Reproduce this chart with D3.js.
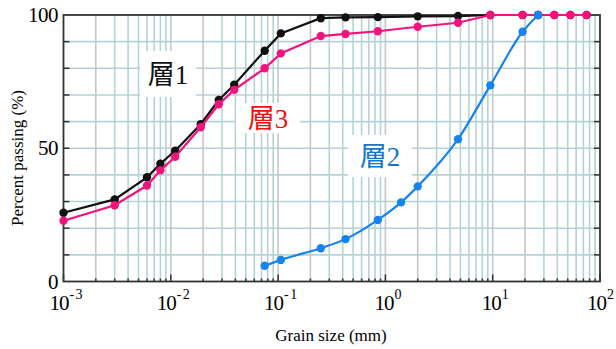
<!DOCTYPE html>
<html>
<head>
<meta charset="utf-8">
<script src="https://cdn.jsdelivr.net/npm/d3@7"></script>
<style>
  body { margin: 0; background: #fff; }
</style>
</head>
<body>
<script>
// grain sizes (mm) and percent passing for each layer
var size1 = [0.001, 0.003, 0.006, 0.008, 0.011, 0.019, 0.028, 0.039, 0.075, 0.106, 0.25, 0.425, 0.85, 2, 4.75, 9.5, 19, 26.5, 37.5, 53, 75];
var pass1 = [25.8, 30.8, 39.1, 44.2, 49.1, 59.0, 68.1, 73.8, 86.6, 93.1, 98.8, 99.1, 99.2, 99.5, 99.6, 100, 100, 100, 100, 100, 100];

var size3 = [0.001, 0.003, 0.006, 0.008, 0.011, 0.019, 0.028, 0.039, 0.075, 0.106, 0.25, 0.425, 0.85, 2, 4.75, 9.5, 19, 26.5, 37.5, 53, 75];
var pass3 = [22.8, 28.6, 36.0, 41.7, 46.8, 57.9, 66.5, 71.9, 80.0, 85.6, 92.1, 92.9, 93.9, 95.6, 97.1, 100, 100, 100, 100, 100, 100];

var size2 = [0.075, 0.106, 0.25, 0.425, 0.85, 1.4, 2, 4.75, 9.5, 19, 26.5];
var pass2 = [5.9, 8.1, 12.5, 15.9, 23.1, 29.7, 35.7, 53.4, 73.6, 93.7, 100];

var xExps = [-3, -2, -1, 0, 1, 2];
var yLabels = [0, 50, 100];

var serif = '"Liberation Serif", "DejaVu Serif", "Times New Roman", "Noto Sans CJK JP", serif';

var width = 616, height = 349;
var svg = d3.select('body').append('svg')
  .attr('width', width)
  .attr('height', height)
  .attr('font-family', serif);

var x = d3.scaleLog().domain([1e-3, 1e2]).range([63.5, 600]);
var y = d3.scaleLinear().domain([0, 100]).range([281.5, 15]);

// minor positions 2..9 within each decade
var minors = [];
xExps.slice(0, -1).forEach(function(e) {
  for (var k = 2; k <= 9; k++) minors.push(k * Math.pow(10, e));
});

var grid = svg.append('g');
grid.selectAll('line.h')
  .data(d3.range(10, 100, 10))
  .enter().append('line')
    .attr('x1', x.range()[0]).attr('x2', x.range()[1])
    .attr('y1', function(d) { return y(d); })
    .attr('y2', function(d) { return y(d); })
    .attr('stroke', '#b6d2d4')
    .attr('stroke-width', 1.6);

grid.selectAll('line.v')
  .data(minors.concat(xExps.slice(1, -1).map(function(e) { return Math.pow(10, e); })))
  .enter().append('line')
    .attr('x1', function(d) { return x(d); })
    .attr('x2', function(d) { return x(d); })
    .attr('y1', y(0)).attr('y2', y(100))
    .attr('stroke', function(d) {
      var m = Math.round(d / Math.pow(10, Math.floor(Math.log10(d) + 1e-9)));
      return (m === 2 || m === 1) ? '#c4c8c8' : '#b4d3d5';
    })
    .attr('stroke-width', 1.6);

// frame
svg.append('rect')
  .attr('x', x.range()[0]).attr('y', y(100))
  .attr('width', x.range()[1] - x.range()[0])
  .attr('height', y(0) - y(100))
  .attr('fill', 'none')
  .attr('stroke', '#333')
  .attr('stroke-width', 1.8);

// inward ticks
var ticks = svg.append('g').attr('stroke', '#333').attr('stroke-width', 1.5);
ticks.selectAll('line.l')
  .data(d3.range(10, 100, 10))
  .enter().append('line')
    .attr('x1', x.range()[0]).attr('x2', x.range()[0] + 6)
    .attr('y1', function(d) { return y(d); }).attr('y2', function(d) { return y(d); });
ticks.selectAll('line.r')
  .data(d3.range(10, 100, 10))
  .enter().append('line')
    .attr('x1', x.range()[1]).attr('x2', x.range()[1] - 6)
    .attr('y1', function(d) { return y(d); }).attr('y2', function(d) { return y(d); });
ticks.selectAll('line.bm')
  .data(minors)
  .enter().append('line')
    .attr('x1', function(d) { return x(d); }).attr('x2', function(d) { return x(d); })
    .attr('y1', y(0)).attr('y2', y(0) - 3);
ticks.selectAll('line.bM')
  .data(xExps)
  .enter().append('line')
    .attr('x1', function(d) { return x(Math.pow(10, d)); }).attr('x2', function(d) { return x(Math.pow(10, d)); })
    .attr('y1', y(0)).attr('y2', y(0) - 7);

// tick labels
svg.selectAll('text.yl')
  .data(yLabels)
  .enter().append('text')
    .attr('x', 58)
    .attr('y', function(d) { return y(d) + 7; })
    .attr('text-anchor', 'end')
    .attr('font-size', 21)
    .attr('letter-spacing', -0.5)
    .text(function(d) { return d; });

var xl = svg.selectAll('text.xl')
  .data(xExps)
  .enter().append('text')
    .attr('x', function(d) { return x(Math.pow(10, d)) + (d === 2 ? 0 : 2); })
    .attr('y', 310)
    .attr('text-anchor', 'middle')
    .attr('font-size', 21)
    .attr('letter-spacing', -1);
xl.append('tspan').text('10');
xl.append('tspan')
  .attr('dy', -11)
  .attr('dx', 1)
  .attr('font-size', 14)
  .text(function(d) { return d < 0 ? '- ' + (-d) : d; });

// axis titles
svg.append('text')
  .attr('x', 331).attr('y', 341)
  .attr('text-anchor', 'middle')
  .attr('font-size', 17)
  .text('Grain size (mm)');
svg.append('text')
  .attr('transform', 'translate(23,158) rotate(-90)')
  .attr('text-anchor', 'middle')
  .attr('font-size', 17)
  .text('Percent passing (%)');

// series
var series = [
  { xs: size1, ys: pass1, color: '#111111', curve: d3.curveLinear },
  { xs: size3, ys: pass3, color: '#f2147c', curve: d3.curveLinear },
  { xs: size2, ys: pass2, color: '#1784ee', curve: d3.curveMonotoneX }
];

series.forEach(function(s) {
  var pts = s.xs.map(function(v, i) { return [v, s.ys[i]]; });
  var line = d3.line()
    .x(function(d) { return x(d[0]); })
    .y(function(d) { return y(d[1]); })
    .curve(s.curve);
  var g = svg.append('g');
  g.append('path')
    .attr('d', line(pts))
    .attr('fill', 'none')
    .attr('stroke', s.color)
    .attr('stroke-width', 2.2);
  g.selectAll('circle')
    .data(pts)
    .enter().append('circle')
      .attr('cx', function(d) { return x(d[0]); })
      .attr('cy', function(d) { return y(d[1]); })
      .attr('r', 4.2)
      .attr('fill', s.color);
});

// layer labels with white boxes
var labels = [
  { text: '層1', cx: 168, cy: 74, color: '#111111', w: 56, h: 46 },
  { text: '層3', cx: 268, cy: 118, color: '#ee1111', w: 64, h: 30 },
  { text: '層2', cx: 380, cy: 156, color: '#1677c8', w: 64, h: 42 }
];
labels.forEach(function(l) {
  svg.append('rect')
    .attr('x', l.cx - l.w / 2).attr('y', l.cy - l.h / 2)
    .attr('width', l.w).attr('height', l.h)
    .attr('fill', '#fff');
  svg.append('text')
    .attr('x', l.cx).attr('y', l.cy + 10)
    .attr('text-anchor', 'middle')
    .attr('font-size', 27)
    .attr('fill', l.color)
    .text(l.text);
});
</script>
</body>
</html>
